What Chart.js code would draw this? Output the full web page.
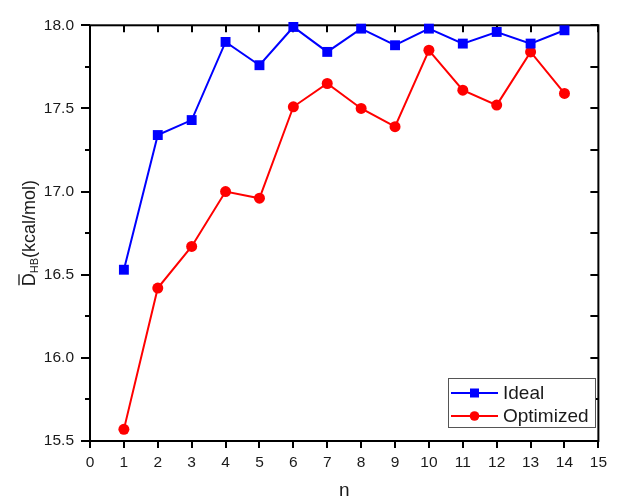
<!DOCTYPE html>
<html>
<head>
<meta charset="utf-8">
<script src="https://cdn.jsdelivr.net/npm/chart.js@4"></script>
<style>
  html, body { margin: 0; padding: 0; background: #fff; }
</style>
</head>
<body>
<canvas id="hbChart" width="619" height="498"></canvas>
<script>
var nValues = [1, 2, 3, 4, 5, 6, 7, 8, 9, 10, 11, 12, 13, 14];
var idealValues = [16.53, 17.34, 17.43, 17.90, 17.76, 17.99, 17.84, 17.98, 17.88, 17.98, 17.89, 17.96, 17.89, 17.97];
var optimizedValues = [15.57, 16.42, 16.67, 17.00, 16.96, 17.51, 17.65, 17.50, 17.39, 17.85, 17.61, 17.52, 17.84, 17.59];
var xTickValues = [0, 1, 2, 3, 4, 5, 6, 7, 8, 9, 10, 11, 12, 13, 14, 15];
var yMajorTicks = [15.5, 16.0, 16.5, 17.0, 17.5, 18.0];
var yMinorTicks = [15.75, 16.25, 16.75, 17.25, 17.75];

var fontFamily = "'Liberation Sans', Arial, sans-serif";
var textColor = '#1a1a1a';

function toPoints(ys) {
    return nValues.map(function (n, i) { return { x: n, y: ys[i] }; });
}

// frame, ticks, axis titles and legend box
var framePlugin = {
    id: 'frame',
    beforeDatasetsDraw: function (chart) {
        var ctx = chart.ctx, a = chart.chartArea;
        var xs = chart.scales.x, ys = chart.scales.y;
        ctx.save();
        ctx.strokeStyle = '#000';
        ctx.lineWidth = 2;
        ctx.strokeRect(a.left, a.top, a.right - a.left, a.bottom - a.top);
        ctx.beginPath();
        xTickValues.forEach(function (v) {
            var px = Math.round(xs.getPixelForValue(v));
            ctx.moveTo(px, a.bottom); ctx.lineTo(px, a.bottom + 7);
            ctx.moveTo(px, a.top); ctx.lineTo(px, a.top + 7);
        });
        yMajorTicks.forEach(function (v) {
            var py = Math.round(ys.getPixelForValue(v));
            ctx.moveTo(a.left - 9, py); ctx.lineTo(a.left, py);
            ctx.moveTo(a.right, py); ctx.lineTo(a.right - 8, py);
        });
        yMinorTicks.forEach(function (v) {
            var py = Math.round(ys.getPixelForValue(v));
            ctx.moveTo(a.left - 5, py); ctx.lineTo(a.left, py);
            ctx.moveTo(a.right, py); ctx.lineTo(a.right - 8, py);
        });
        ctx.stroke();
        ctx.restore();
    },
    afterDraw: function (chart) {
        var ctx = chart.ctx, a = chart.chartArea;
        ctx.save();
        ctx.fillStyle = textColor;

        // x title
        ctx.font = '19px ' + fontFamily;
        ctx.textAlign = 'center';
        ctx.textBaseline = 'alphabetic';
        ctx.fillText('n', (a.left + a.right) / 2, 496);

        // y title, rotated, with overline and subscript
        ctx.translate(35, (a.top + a.bottom) / 2);
        ctx.rotate(-Math.PI / 2);
        ctx.textAlign = 'left';
        var big = '18px ' + fontFamily, small = '11px ' + fontFamily;
        ctx.font = big;
        var wD = ctx.measureText('D').width;
        var wRest = ctx.measureText('(kcal/mol)').width;
        ctx.font = small;
        var wSub = ctx.measureText('HB').width;
        var sx = -(wD + wSub + wRest) / 2;
        ctx.font = big;
        ctx.fillText('D', sx, 0);
        ctx.strokeStyle = textColor;
        ctx.lineWidth = 1.3;
        ctx.beginPath();
        ctx.moveTo(sx + 1, -16); ctx.lineTo(sx + wD - 1, -16);
        ctx.stroke();
        ctx.font = small;
        ctx.fillText('HB', sx + wD, 3);
        ctx.font = big;
        ctx.fillText('(kcal/mol)', sx + wD + wSub, 0);
        ctx.restore();

        // legend
        ctx.save();
        ctx.strokeStyle = '#555';
        ctx.lineWidth = 1;
        ctx.fillStyle = '#fff';
        ctx.fillRect(448.5, 378.5, 147, 49);
        ctx.strokeRect(448.5, 378.5, 147, 49);
        var rows = [393, 416];
        chart.data.datasets.forEach(function (ds, i) {
            var y = rows[i];
            ctx.strokeStyle = ds.borderColor;
            ctx.lineWidth = 2;
            ctx.beginPath();
            ctx.moveTo(451, y); ctx.lineTo(498, y);
            ctx.stroke();
            ctx.fillStyle = ds.backgroundColor;
            if (ds.pointStyle === 'rect') {
                ctx.fillRect(470, y - 4.5, 9, 9);
            } else {
                ctx.beginPath();
                ctx.arc(474.5, y, 4.8, 0, Math.PI * 2);
                ctx.fill();
            }
            ctx.fillStyle = textColor;
            ctx.font = '19px ' + fontFamily;
            ctx.textAlign = 'left';
            ctx.textBaseline = 'middle';
            ctx.fillText(ds.label, 503, y + 1);
        });
        ctx.restore();
    }
};

var hbChart = new Chart(document.getElementById('hbChart').getContext('2d'), {
    type: 'line',
    data: {
        datasets: [{
            label: 'Ideal',
            data: toPoints(idealValues),
            borderColor: '#0000ff',
            backgroundColor: '#0000ff',
            borderWidth: 2,
            pointStyle: 'rect',
            pointRadius: 7,
            pointBorderWidth: 0,
            clip: false
        }, {
            label: 'Optimized',
            data: toPoints(optimizedValues),
            borderColor: '#ff0000',
            backgroundColor: '#ff0000',
            borderWidth: 2,
            pointStyle: 'circle',
            pointRadius: 5.5,
            pointBorderWidth: 0,
            clip: false
        }]
    },
    options: {
        responsive: false,
        animation: false,
        layout: { padding: { top: 23, right: 11, left: 0, bottom: 0 } },
        plugins: {
            legend: { display: false },
            tooltip: { enabled: false }
        },
        scales: {
            x: {
                type: 'linear',
                min: 0,
                max: 15,
                afterBuildTicks: function (s) { s.ticks = xTickValues.map(function (v) { return { value: v }; }); },
                afterFit: function (s) { s.height = 57; },
                grid: { display: false, drawTicks: false },
                border: { display: false },
                ticks: {
                    padding: 12,
                    autoSkip: false,
                    maxRotation: 0,
                    color: textColor,
                    font: { family: fontFamily, size: 15.5 }
                }
            },
            y: {
                type: 'linear',
                min: 15.5,
                max: 18,
                afterBuildTicks: function (s) { s.ticks = yMajorTicks.map(function (v) { return { value: v }; }); },
                afterFit: function (s) { s.width = 90; },
                grid: { display: false, drawTicks: false },
                border: { display: false },
                ticks: {
                    padding: 16,
                    color: textColor,
                    font: { family: fontFamily, size: 15.5 },
                    callback: function (v) { return Number(v).toFixed(1); }
                }
            }
        }
    },
    plugins: [framePlugin]
});
</script>
</body>
</html>
